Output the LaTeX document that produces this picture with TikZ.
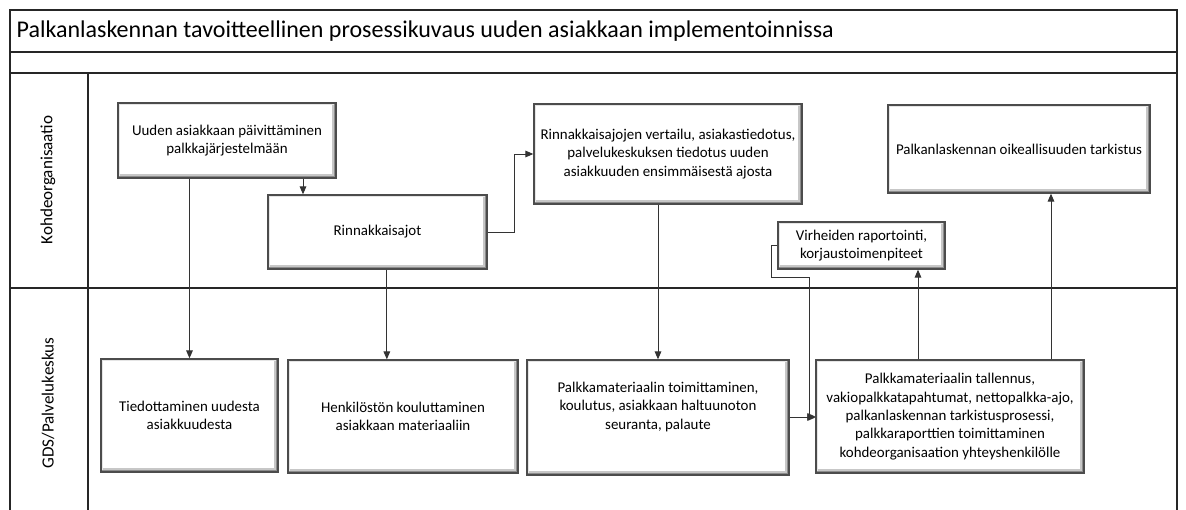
\documentclass[tikz,border=0pt]{standalone}
\usepackage{fontspec}
\setmainfont{Carlito}
\usetikzlibrary{arrows.meta}
\tikzstyle{box} = [rectangle, draw=black!70, line width=1pt, align=center, font=\fontsize{11.2}{13.8}\selectfont,
  path picture={
    \fill[black!45] (path picture bounding box.south west) rectangle (path picture bounding box.north east);
    \fill[black!10] ([xshift=-1.5pt,yshift=1.5pt]path picture bounding box.south east) rectangle (path picture bounding box.north west);
    \fill[black!22] ([xshift=1.5pt,yshift=1.5pt]path picture bounding box.south west) rectangle ([xshift=-1.5pt,yshift=-1.5pt]path picture bounding box.north east);
    \fill[white] ([xshift=1.5pt,yshift=3pt]path picture bounding box.south west) rectangle ([xshift=-3pt,yshift=-1.5pt]path picture bounding box.north east);}]
\tikzstyle{arrow} = [black!80, line width=0.75pt, ->, >={Stealth[length=6pt, width=5pt, inset=0pt]}]
\tikzstyle{lane} = [black!85, line width=0.9pt]

\begin{document}
\begin{tikzpicture}[x=0.75pt, y=-0.75pt]
            \useasboundingbox (0,0) rectangle (1186,510);

            \draw [lane] (10,510) -- (10,10) -- (1177,10) -- (1177,510);
            \draw [lane] (10,52) -- (1177,52);
            \draw [lane] (10,73) -- (1177,73);
            \draw [lane] (10,288) -- (1177,288);
            \draw [lane] (88,73) -- (88,510);

            \node (otsikko) [anchor=west, font=\fontsize{18}{21}\selectfont] at (12,31) {Palkanlaskennan tavoitteellinen prosessikuvaus uuden asiakkaan implementoinnissa};
            \node (kohde)   [rotate=90, font=\fontsize{12.8}{15}\selectfont] at (48,180) {Kohdeorganisaatio};
            \node (gds)     [rotate=90, font=\fontsize{12.8}{15}\selectfont] at (48,403) {GDS/Palvelukeskus};

            \node (paivitys)    [box, minimum width=163.5pt, minimum height=56.25pt] at (227,140.5) {Uuden asiakkaan päivittäminen\\palkkajärjestelmään};
            \node (rinnakkais)  [box, minimum width=164.25pt, minimum height=55.5pt] at (377.5,232) {Rinnakkaisajot};
            \node (vertailu)    [box, minimum width=201pt, minimum height=75pt] at (668,154) {Rinnakkaisajojen vertailu, asiakastiedotus,\\palvelukeskuksen tiedotus uuden\\asiakkuuden ensimmäisestä ajosta};
            \node (tarkistus)   [box, minimum width=196.5pt, minimum height=66pt] at (1019,149) {Palkanlaskennan oikeallisuuden tarkistus};
            \node (virheet)     [box, minimum width=125.25pt, minimum height=35.25pt] at (861.5,245.5) {Virheiden raportointi,\\korjaustoimenpiteet};
            \node (tiedotus)    [box, minimum width=132.75pt, minimum height=84.75pt] at (189.5,415.5) {Tiedottaminen uudesta\\asiakkuudesta};
            \node (koulutus)    [box, minimum width=172.5pt, minimum height=84.75pt] at (403,416.5) {Henkilöstön kouluttaminen\\asiakkaan materiaaliin};
            \node (toimitus)    [box, minimum width=196.5pt, minimum height=86.25pt] at (658,417.5) {Palkkamateriaalin toimittaminen,\\koulutus, asiakkaan haltuunoton\\seuranta, palaute\\\strut};
            \node (tallennus)   [box, minimum width=201pt, minimum height=84.75pt] at (950,416.5) {Palkkamateriaalin tallennus,\\vakiopalkkatapahtumat, nettopalkka-ajo,\\palkanlaskennan tarkistusprosessi,\\palkkaraporttien toimittaminen\\kohdeorganisaation yhteyshenkilölle};

            \draw [arrow] (paivitys.south -| tiedotus.north) -- (tiedotus.north);
            \draw [arrow] ([xshift=57pt]paivitys.south) -- ([xshift=57pt]paivitys.south |- rinnakkais.north);
            \draw [arrow] ([xshift=7pt]rinnakkais.south) -- ([xshift=7pt]rinnakkais.south |- koulutus.north);
            \draw [arrow] (rinnakkais.east) -- ++(27,0) |- (vertailu.west);
            \draw [arrow] (vertailu.south -| toimitus.north) -- (toimitus.north);
            \draw [arrow] (toimitus.east) -- (toimitus.east -| tallennus.west);
            \draw [arrow] (virheet.west) -- ++(-6,0) -- ++(0,31.5) -- ++(38,0) |- (tallennus.west);
            \draw [arrow] ([xshift=-24pt]tallennus.north) -- ([xshift=-24pt]tallennus.north |- virheet.south);
            \draw [arrow] ([xshift=75.75pt]tallennus.north) -- ([xshift=75.75pt]tallennus.north |- tarkistus.south);
        \end{tikzpicture}
\end{document}
